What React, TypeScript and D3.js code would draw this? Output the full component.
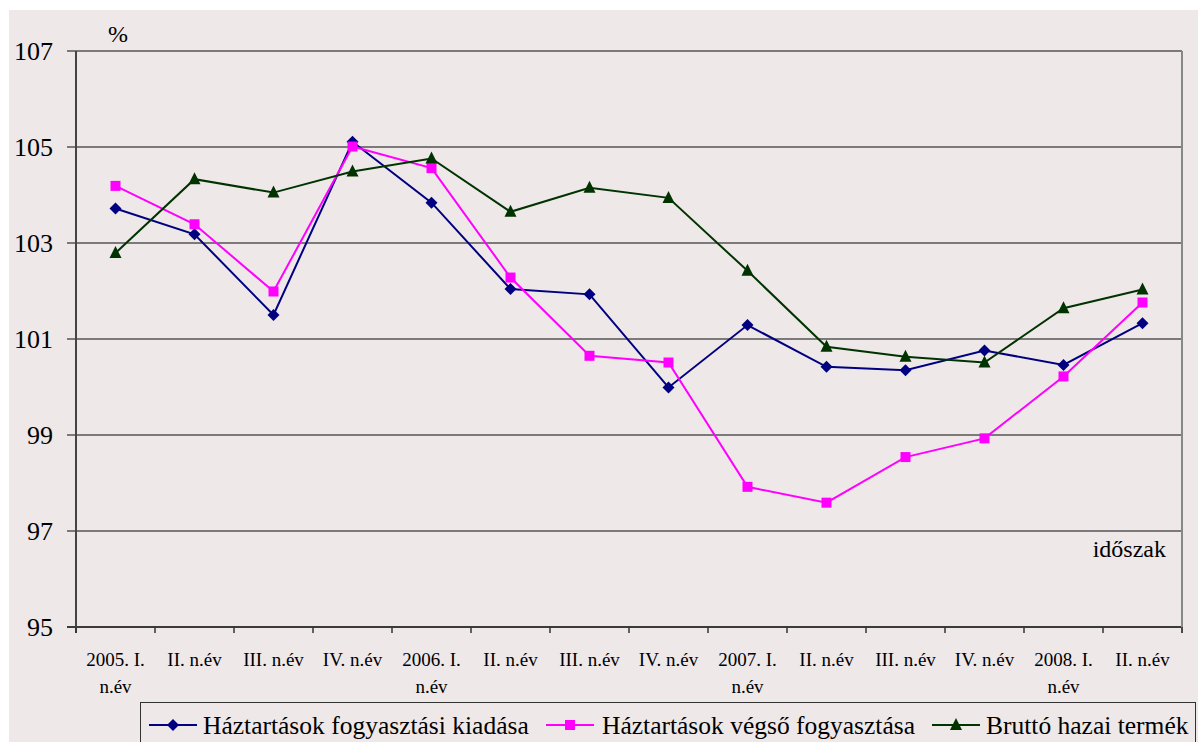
import React from "react";
import * as d3 from "d3";

const categories: string[][] = [
  ["2005. I.", "n.év"], ["II. n.év"], ["III. n.év"], ["IV. n.év"],
  ["2006. I.", "n.év"], ["II. n.év"], ["III. n.év"], ["IV. n.év"],
  ["2007. I.", "n.év"], ["II. n.év"], ["III. n.év"], ["IV. n.év"],
  ["2008. I.", "n.év"], ["II. n.év"],
];

const fogyasztasiKiadas = [103.72, 103.18, 101.5, 105.11, 103.84, 102.04, 101.93, 99.99, 101.29, 100.42, 100.35, 100.76, 100.46, 101.33];
const vegsoFogyasztas = [104.19, 103.39, 101.99, 105.01, 104.56, 102.28, 100.65, 100.51, 97.92, 97.59, 98.54, 98.93, 100.22, 101.76];
const gdp = [102.79, 104.33, 104.05, 104.49, 104.76, 103.65, 104.15, 103.94, 102.42, 100.84, 100.63, 100.51, 101.64, 102.03];

const yTicks = [95, 97, 99, 101, 103, 105, 107];
const seriesNames = ["Háztartások fogyasztási kiadása", "Háztartások végső fogyasztása", "Bruttó hazai termék"];

const W = 1198, H = 742;
const left = 76, right = 1182, top = 51, bottom = 627;
const FONT = "'Liberation Serif', 'Times New Roman', serif";

const COLORS = ["#000080", "#FF00FF", "#003300"];

function Marker({ type, x, y, color }: { type: number; x: number; y: number; color: string }) {
  if (type === 0) {
    const s = 6;
    return <path d={`M${x},${y - s}L${x + s},${y}L${x},${y + s}L${x - s},${y}Z`} fill={color} />;
  }
  if (type === 1) {
    const s = 5;
    return <rect x={x - s} y={y - s} width={2 * s} height={2 * s} fill={color} />;
  }
  const s = 6;
  return <path d={`M${x},${y - s - 1}L${x + s},${y + s - 1}L${x - s},${y + s - 1}Z`} fill={color} />;
}

export default function App() {
  const x = d3.scaleBand<number>().domain(d3.range(categories.length)).range([left, right]).paddingInner(0).paddingOuter(0);
  const y = d3.scaleLinear().domain([95, 107]).range([bottom, top]);
  const cx = (i: number) => (x(i) as number) + x.bandwidth() / 2;
  const line = d3.line<number>().x((_, i) => cx(i)).y((v) => y(v));
  const allSeries = [fogyasztasiKiadas, vegsoFogyasztas, gdp];
  const tickXs = d3.range(categories.length + 1).map((i) => left + i * x.bandwidth());

  const legendItems = [
    { lx: 149, tx: 203 },
    { lx: 546, tx: 602 },
    { lx: 932, tx: 986 },
  ];

  return (
    <svg width={W} height={H} style={{ position: "absolute", left: 0, top: 0, display: "block" }}>
      <rect x={0} y={0} width={W} height={H} fill="#ffffff" />
      <rect x={9} y={10} width={W - 9} height={H - 10} fill="#EEE8E8" />

      {/* gridlines */}
      {yTicks.map((t) => (
        <line key={t} x1={left - 9} x2={right} y1={y(t)} y2={y(t)} stroke={t === 95 ? "#000" : "#555"} strokeWidth={1.5} />
      ))}
      {/* right border */}
      <line x1={right} x2={right} y1={top} y2={bottom + 6} stroke="#888" strokeWidth={2} />
      {/* left axis */}
      <line x1={left} x2={left} y1={top} y2={bottom + 6} stroke="#444" strokeWidth={2} />
      {/* x ticks */}
      {tickXs.map((tx, i) => (
        <line key={i} x1={tx} x2={tx} y1={bottom} y2={bottom + 6} stroke="#333" strokeWidth={1.5} />
      ))}

      {/* y tick labels */}
      {yTicks.map((t) => (
        <text key={t} x={53} y={y(t) + 9} textAnchor="end" fontFamily={FONT} fontSize={26} fill="#000">{t}</text>
      ))}
      <text x={108} y={42} fontFamily={FONT} fontSize={24} fill="#000">%</text>
      <text x={1166} y={557} textAnchor="end" fontFamily={FONT} fontSize={24} fill="#000">időszak</text>

      {/* x labels */}
      {categories.map((lines, i) => (
        <text key={i} x={cx(i)} y={666} textAnchor="middle" fontFamily={FONT} fontSize={19} fill="#000">
          {lines.map((l, j) => (
            <tspan key={j} x={cx(i)} dy={j === 0 ? 0 : 27}>{l}</tspan>
          ))}
        </text>
      ))}

      {/* series */}
      {allSeries.map((s, k) => (
        <g key={k}>
          <path d={line(s) || ""} fill="none" stroke={COLORS[k]} strokeWidth={2} />
          {s.map((v, i) => (
            <Marker key={i} type={k} x={cx(i)} y={y(v)} color={COLORS[k]} />
          ))}
        </g>
      ))}

      {/* legend */}
      <rect x={140.5} y={702.5} width={1055} height={45} fill="#EEE8E8" stroke="#333" strokeWidth={1} />
      {legendItems.map((it, k) => (
        <g key={k}>
          <line x1={it.lx} x2={it.lx + 48} y1={725} y2={725} stroke={COLORS[k]} strokeWidth={2} />
          <Marker type={k} x={it.lx + 24} y={725} color={COLORS[k]} />
          <text x={it.tx} y={734} fontFamily={FONT} fontSize={25.5} fill="#000">{seriesNames[k]}</text>
        </g>
      ))}
    </svg>
  );
}
